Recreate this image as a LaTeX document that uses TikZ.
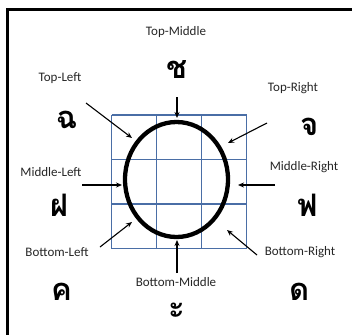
\documentclass[tikz,border=0pt]{standalone}
\usepackage{fontspec}
\setmainfont{Carlito}
\newfontfamily\thaifont[Script=Thai]{Loma}
\usetikzlibrary{arrows.meta}
\definecolor{gridblue}{HTML}{4A6EA6}

\tikzset{
  lbl/.style={font=\fontsize{13}{15}\selectfont, text=black!85},
  thai/.style={font=\thaifont\bfseries\fontsize{31}{34}\selectfont, inner sep=0pt},
  pointer/.style={-{Stealth[length=6pt,width=5pt]}, line width=1.1pt},
}

\begin{document}
\begin{tikzpicture}[x=1pt, y=-1pt]
\useasboundingbox (0,0) rectangle (352,334);
% cadre
\draw[line width=3pt] (7.5,10) rectangle (400,400);

% grille 3x3
\foreach \x in {111.5,156.5,201.5,246.5}
  \draw[gridblue, line width=1.6pt] (\x,115) -- (\x,248.5);
\foreach \y in {115,159.5,204,248.5}
  \draw[gridblue, line width=1.6pt] (111.5,\y) -- (246.5,\y);

% ellipse
\draw[line width=4.3pt] (176.5,179.5) ellipse [x radius=51.5, y radius=57.5];

% etiquettes
\node[lbl] (tm) at (176,32) {Top-Middle};
\node[lbl] (tl) at (60,78) {Top-Left};
\node[lbl] (tr) at (293,88) {Top-Right};
\node[lbl] (ml) at (51,172) {Middle-Left};
\node[lbl] (mr) at (304,167) {Middle-Right};
\node[lbl] (bl) at (57,252) {Bottom-Left};
\node[lbl] (bm) at (176,282) {Bottom-Middle};
\node[lbl] (br) at (300,252) {Bottom-Right};

% lettres
\node[thai] (chTM) at (177,70) {ช};
\node[thai] (chTL) at (67,120) {ฉ};
\node[thai] (chTR) at (310,127) {จ};
\node[thai] (chML) at (60,205) {ฝ};
\node[thai] (chMR) at (308,205) {ฟ};
\node[thai] (chBL) at (62,292) {ค};
\node[thai] (chBR) at (300,292) {ด};
\node[thai] (chB) at (177,311) {ะ};

% fleches
\coordinate (sTM) at (177,97);  \coordinate (eTM) at (177,118);
\coordinate (sTL) at (86,103);  \coordinate (eTL) at (132,138);
\coordinate (sTR) at (267,123); \coordinate (eTR) at (228,143);
\coordinate (sML) at (82,185);  \coordinate (eML) at (122,185);
\coordinate (sMR) at (275,185); \coordinate (eMR) at (238,185);
\coordinate (sBL) at (100,247); \coordinate (eBL) at (132,222);
\coordinate (sBM) at (177,273); \coordinate (eBM) at (177,240);
\coordinate (sBR) at (257,255); \coordinate (eBR) at (227,230);
\foreach \p in {TM,TL,TR,ML,MR,BL,BM,BR}
  \draw[pointer] (s\p) -- (e\p);
\end{tikzpicture}
\end{document}
